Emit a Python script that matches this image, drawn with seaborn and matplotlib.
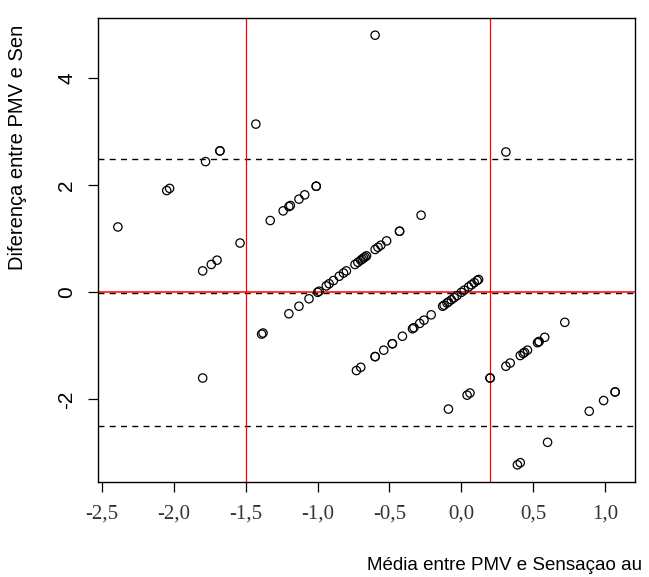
import matplotlib
matplotlib.use("Agg")
import matplotlib.pyplot as plt
import seaborn as sns
import pandas as pd

# Bland-Altman data
media = [
    -2.39, -2.05, -2.03, -1.78, -1.68, -1.68, -1.43, -0.60,
    -1.80, -1.74, -1.70, -1.54, -1.33, -1.24, -1.20, -1.19, -1.13, -1.09, -1.01, -1.01,
    -1.80, -1.39, -1.38, -1.20, -1.13, -1.06, -1.00, -0.99, -0.94, -0.92, -0.89, -0.85,
    -0.82, -0.80, -0.74, -0.72, -0.70, -0.69, -0.68, -0.67, -0.66, -0.60, -0.58, -0.56,
    -0.52, -0.43, -0.43, -0.28, 0.31,
    -0.73, -0.70, -0.60, -0.60, -0.54, -0.48, -0.48, -0.41, -0.34, -0.33, -0.29, -0.26,
    -0.21, -0.13, -0.12, -0.10, -0.09, -0.07, -0.05, -0.03, 0.00, 0.02, 0.05, 0.07,
    0.09, 0.11, 0.12,
    -0.09, 0.04, 0.06, 0.20, 0.20, 0.31, 0.34, 0.41, 0.43, 0.44, 0.46, 0.53, 0.54,
    0.54, 0.58, 0.72,
    0.39, 0.41, 0.60, 0.89, 0.99, 1.07, 1.07,
]
diferenca = [
    1.22, 1.90, 1.94, 2.44, 2.64, 2.64, 3.14, 4.80,
    0.40, 0.52, 0.60, 0.92, 1.34, 1.52, 1.60, 1.62, 1.74, 1.82, 1.98, 1.98,
    -1.60, -0.78, -0.76, -0.40, -0.26, -0.12, 0.00, 0.02, 0.12, 0.16, 0.22, 0.30,
    0.36, 0.40, 0.52, 0.56, 0.60, 0.62, 0.64, 0.66, 0.68, 0.80, 0.84, 0.88,
    0.96, 1.14, 1.14, 1.44, 2.62,
    -1.46, -1.40, -1.20, -1.20, -1.08, -0.96, -0.96, -0.82, -0.68, -0.66, -0.58, -0.52,
    -0.42, -0.26, -0.24, -0.20, -0.18, -0.14, -0.10, -0.06, 0.00, 0.04, 0.10, 0.14,
    0.18, 0.22, 0.24,
    -2.18, -1.92, -1.88, -1.60, -1.60, -1.38, -1.32, -1.18, -1.14, -1.12, -1.08, -0.94, -0.92,
    -0.92, -0.84, -0.56,
    -3.22, -3.18, -2.80, -2.22, -2.02, -1.86, -1.86,
]

mean_diff = -0.02
upper_limit = 2.48
lower_limit = -2.50
vertical_refs = [-1.5, 0.2]

x_ticks = [-2.5, -2.0, -1.5, -1.0, -0.5, 0.0, 0.5, 1.0]
y_ticks = [-2, 0, 2, 4]
x_label = "Média entre PMV e Sensaçao au"
y_label = "Diferença entre PMV e Sen"

df = pd.DataFrame({"media": media, "diferenca": diferenca})

sns.set_style("white")
plt.rcParams["font.family"] = ["Liberation Sans", "DejaVu Sans"]

fig = plt.figure(figsize=(6.49, 5.77), dpi=100)
ax = fig.add_axes([98 / 649, 1 - 482 / 577, (635 - 98) / 649, (482 - 18) / 577])

sns.scatterplot(data=df, x="media", y="diferenca", ax=ax, marker="o", s=36,
                facecolor="none", edgecolor="black", linewidth=0.9, zorder=3)

# reference lines
ax.axhline(upper_limit, color="black", lw=1.0, dashes=(4.3, 3.8), zorder=2)
ax.axhline(lower_limit, color="black", lw=1.0, dashes=(4.3, 3.8), zorder=2)
ax.axhline(mean_diff, color="black", lw=1.0, dashes=(4.3, 3.8), zorder=2)
ax.axhline(0.0, color="#ff0000", lw=1.1, zorder=2.5)
for v in vertical_refs:
    ax.axvline(v, color="#ff0000", lw=0.9, zorder=2.5)

# limits with R-style 4% expansion
xr = max(media) - min(media)
yr = max(diferenca) - min(diferenca)
ax.set_xlim(min(media) - 0.04 * xr, max(media) + 0.04 * xr)
ax.set_ylim(min(diferenca) - 0.04 * yr, max(diferenca) + 0.04 * yr)

ax.set_xticks(x_ticks)
ax.set_xticklabels([f"{v:.1f}".replace(".", ",") for v in x_ticks],
                   fontfamily="Liberation Serif", fontsize=15, color="#333333")
ax.set_yticks(y_ticks)
ax.set_yticklabels([str(v) for v in y_ticks], rotation=90, va="center",
                   fontsize=15, color="#222222")
ax.tick_params(axis="x", direction="out", length=7, width=0.9, pad=9.5, colors="black",
               labelcolor="#333333")
ax.tick_params(axis="y", direction="out", length=7, width=0.9, pad=8.5, colors="black")
ax.tick_params(left=True, bottom=True)

for sp in ax.spines.values():
    sp.set_visible(True)
    sp.set_color("black")
    sp.set_linewidth(1.0)

ax.set_xlabel("")
ax.set_ylabel("")

fig.text(367 / 649, 1 - 566 / 577, x_label, ha="left", va="center", fontsize=13.5,
         color="black")
fig.text(18 / 649, 1 - 270 / 577, y_label, ha="center", va="bottom", rotation=90,
         fontsize=14.5, color="black")

fig.savefig("out.png", dpi=100)
